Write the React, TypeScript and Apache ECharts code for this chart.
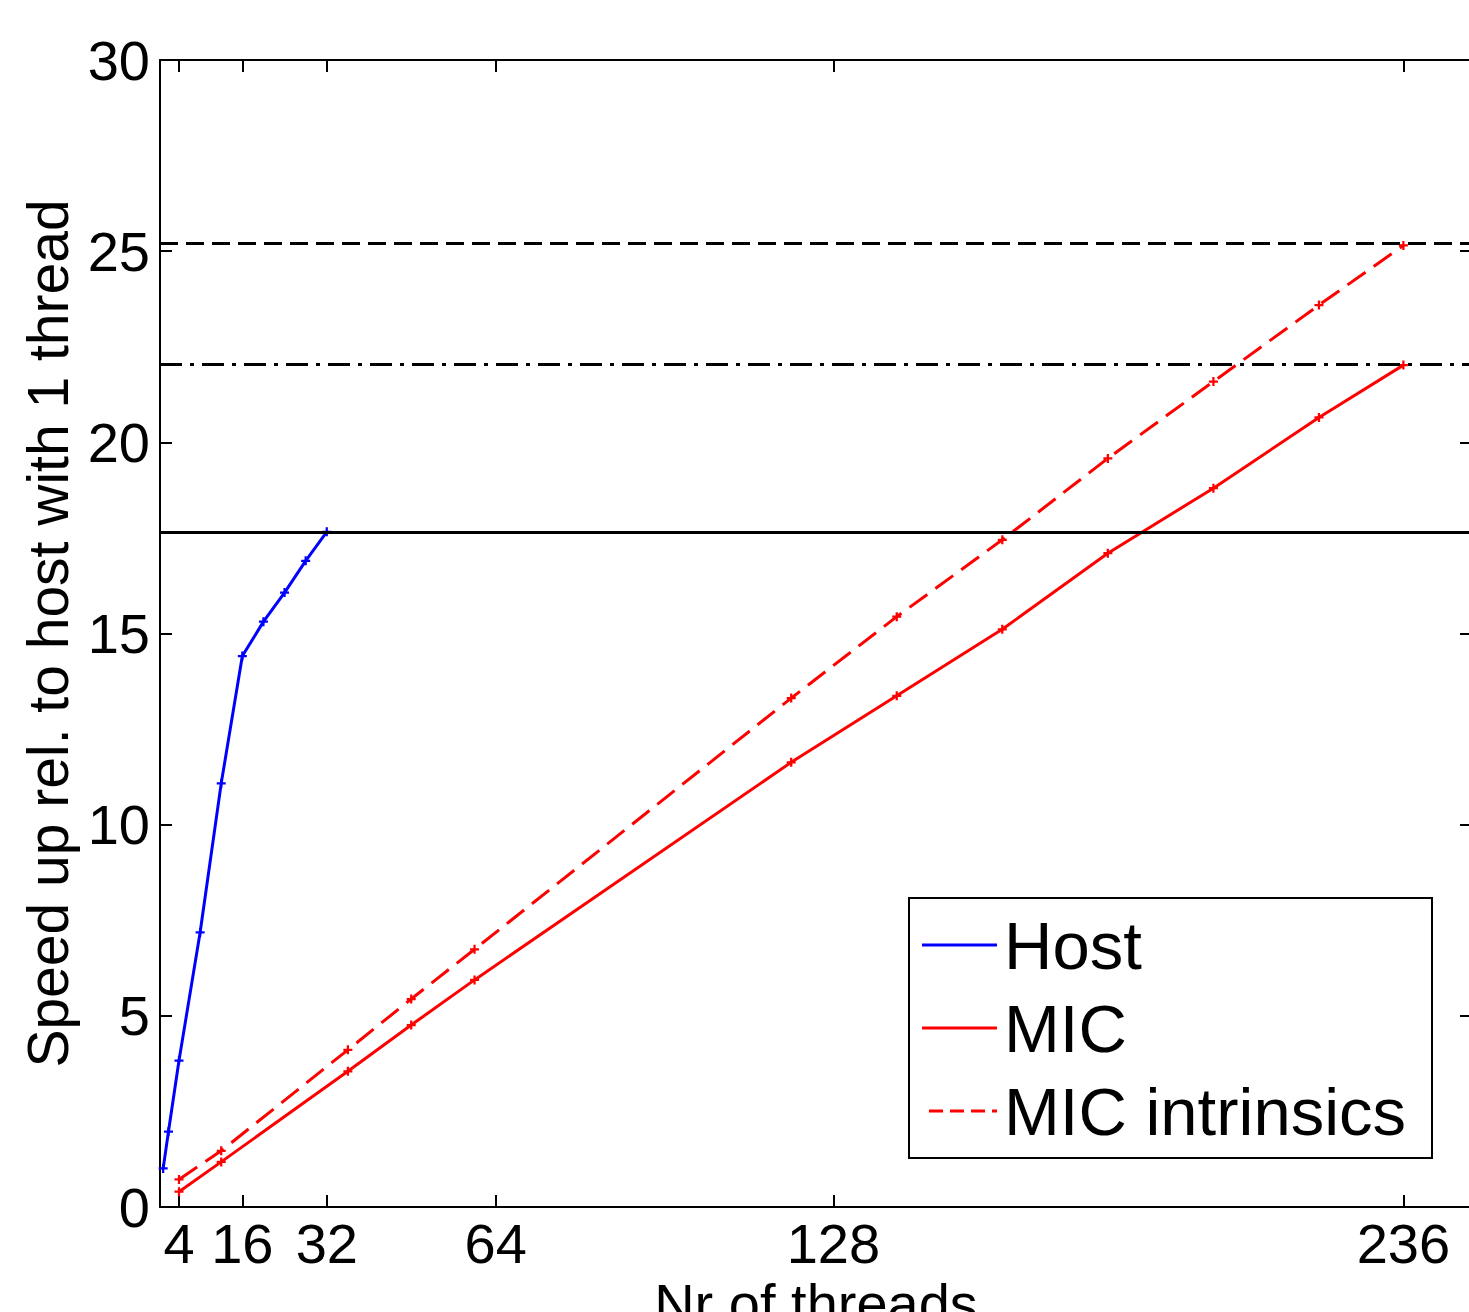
import React, { useEffect, useRef } from "react";
import * as echarts from "echarts";

const hostThreads = [1, 2, 4, 8, 12, 16, 20, 24, 28, 32];
const hostSpeedup = [1.01, 1.97, 3.83, 7.18, 11.08, 14.41, 15.31, 16.07, 16.9, 17.66];

const micThreads = [4, 12, 36, 48, 60, 120, 140, 160, 180, 200, 220, 236];
const micSpeedup = [0.4, 1.18, 3.55, 4.76, 5.94, 11.63, 13.37, 15.11, 17.1, 18.8, 20.65, 22.02];
const micIntrinsicsSpeedup = [0.72, 1.47, 4.11, 5.44, 6.74, 13.31, 15.44, 17.45, 19.58, 21.59, 23.59, 25.15];

const xTickValues = [4, 16, 32, 64, 128, 236];
const refSolid = 17.66;
const refDashDot = 22.05;
const refDashed = 25.22;

const seriesNames = ["Host", "MIC", "MIC intrinsics"];

const FONT = "Liberation Sans, Arial, sans-serif";
const PLUS = "path://M3,0H5V3H8V5H5V8H3V5H0V3H3Z";

export default function App() {
  const ref = useRef<HTMLDivElement>(null);
  useEffect(() => {
    document.body.style.margin = "0";
    if (!ref.current) return;
    const chart = echarts.init(ref.current, null, { renderer: "svg" });
    const xMin = 0.4;
    const xMax = 249;
    const axisCommon = {
      min: xMin,
      max: xMax,
      type: "value" as const,
      splitLine: { show: false },
      axisLine: { show: true, onZero: false, lineStyle: { color: "#000", width: 2 } },
    };
    const legendTop = 898;
    const legendLeft = 909;
    const rows = [945, 1028, 1111];
    chart.setOption({
      animation: false,
      backgroundColor: "#fff",
      grid: { left: 160, top: 60, width: 1312, height: 1147, outerBoundsMode: "none", containLabel: false },
      xAxis: [
        {
          ...axisCommon,
          position: "bottom",
          name: "Nr of threads",
          nameLocation: "middle",
          nameGap: 65,
          nameTextStyle: { fontSize: 56, color: "#000", fontFamily: FONT },
          axisTick: { show: true, inside: true, length: 12, customValues: xTickValues, lineStyle: { color: "#000", width: 2 } },
          axisLabel: { show: true, customValues: xTickValues, fontSize: 56, color: "#000", fontFamily: FONT, margin: 8 },
        },
        {
          ...axisCommon,
          position: "top",
          axisTick: { show: true, inside: true, length: 12, customValues: xTickValues, lineStyle: { color: "#000", width: 2 } },
          axisLabel: { show: false },
        },
      ],
      yAxis: [
        {
          type: "value",
          min: 0,
          max: 30,
          interval: 5,
          position: "left",
          splitLine: { show: false },
          name: "Speed up rel. to host with 1 thread",
          nameLocation: "middle",
          nameRotate: 90,
          nameGap: 82,
          nameTextStyle: { fontSize: 57, color: "#000", fontFamily: FONT },
          axisLine: { show: true, lineStyle: { color: "#000", width: 2 } },
          axisTick: { show: true, inside: true, length: 12, lineStyle: { color: "#000", width: 2 } },
          axisLabel: { fontSize: 56, color: "#000", fontFamily: FONT, margin: 10 },
        },
        {
          type: "value",
          min: 0,
          max: 30,
          interval: 5,
          position: "right",
          splitLine: { show: false },
          axisLine: { show: true, lineStyle: { color: "#000", width: 2 } },
          axisTick: { show: true, inside: true, length: 12, lineStyle: { color: "#000", width: 2 } },
          axisLabel: { show: false },
        },
      ],
      series: [
        {
          name: seriesNames[0],
          type: "line",
          data: hostThreads.map((t, i) => [t, hostSpeedup[i]]),
          symbol: PLUS,
          symbolSize: 9,
          itemStyle: { color: "#0000ff" },
          lineStyle: { color: "#0000ff", width: 3 },
          z: 3,
        },
        {
          name: seriesNames[1],
          type: "line",
          data: micThreads.map((t, i) => [t, micSpeedup[i]]),
          symbol: PLUS,
          symbolSize: 9,
          itemStyle: { color: "#ff0000" },
          lineStyle: { color: "#ff0000", width: 3 },
          z: 3,
        },
        {
          name: seriesNames[2],
          type: "line",
          data: micThreads.map((t, i) => [t, micIntrinsicsSpeedup[i]]),
          symbol: PLUS,
          symbolSize: 9,
          itemStyle: { color: "#ff0000" },
          lineStyle: { color: "#ff0000", width: 3, type: [22, 10] },
          z: 3,
        },
        {
          name: "refs",
          type: "line",
          data: [],
          z: 2,
          markLine: {
            silent: true,
            symbol: "none",
            label: { show: false },
            data: [
              { yAxis: refSolid, lineStyle: { color: "#000", width: 3, type: "solid" } },
              { yAxis: refDashDot, lineStyle: { color: "#000", width: 3, type: [22, 8, 4, 8] } },
              { yAxis: refDashed, lineStyle: { color: "#000", width: 3, type: [18, 8] } },
            ],
          },
        },
      ],
      graphic: [
        {
          type: "rect",
          shape: { x: legendLeft, y: legendTop, width: 523, height: 260 },
          style: { fill: "#fff", stroke: "#000", lineWidth: 2 },
          z: 10,
        },
        {
          type: "line",
          shape: { x1: 922, y1: rows[0], x2: 997, y2: rows[0] },
          style: { stroke: "#0000ff", lineWidth: 3 },
          z: 11,
        },
        {
          type: "line",
          shape: { x1: 922, y1: rows[1], x2: 997, y2: rows[1] },
          style: { stroke: "#ff0000", lineWidth: 3 },
          z: 11,
        },
        {
          type: "line",
          shape: { x1: 929, y1: rows[2], x2: 997, y2: rows[2] },
          style: { stroke: "#ff0000", lineWidth: 3, lineDash: [14, 7] },
          z: 11,
        },
        ...seriesNames.map((n, i) => ({
          type: "text",
          x: 1004,
          y: rows[i],
          style: {
            text: n,
            fontSize: 67,
            fontFamily: FONT,
            fill: "#000",
            textVerticalAlign: "middle",
            verticalAlign: "middle",
          },
          z: 11,
        })),
      ],
    });
    return () => chart.dispose();
  }, []);
  return <div ref={ref} style={{ width: 1469, height: 1312, position: "absolute", left: 0, top: 0 }} />;
}
